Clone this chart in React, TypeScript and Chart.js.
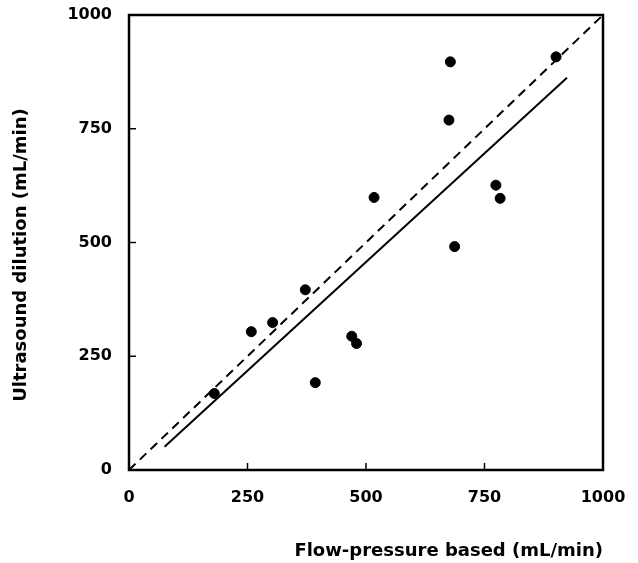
import React, { useEffect, useRef } from "react";
import { Chart, registerables } from "chart.js";

Chart.register(...registerables);

const flowPressure = [180, 258, 303, 372, 393, 470, 480, 517, 675, 678, 687, 774, 783, 901];
const ultrasound = [168, 304, 324, 396, 192, 294, 278, 599, 769, 897, 491, 626, 597, 908];
const regressionX = [75, 924];
const regressionY = [51, 862];
const identityX = [0, 1000];
const identityY = [0, 1000];
const tickValues = [0, 250, 500, 750, 1000];
const innerTicks = [250, 500, 750];
const xTitle = "Flow-pressure based (mL/min)";
const yTitle = "Ultrasound dilution (mL/min)";

const FONT = "'DejaVu Sans', sans-serif";

const frameTicks = {
  id: "frameTicks",
  afterDraw(chart: any) {
    const { ctx, chartArea, scales } = chart;
    const { left, right, top, bottom } = chartArea;
    ctx.save();
    ctx.strokeStyle = "#000";
    ctx.lineWidth = 2.5;
    ctx.strokeRect(left, top, right - left, bottom - top);
    ctx.lineWidth = 1.5;
    innerTicks.forEach((v) => {
      const px = scales.x.getPixelForValue(v);
      ctx.beginPath();
      ctx.moveTo(px, bottom);
      ctx.lineTo(px, bottom - 7);
      ctx.stroke();
      const py = scales.y.getPixelForValue(v);
      ctx.beginPath();
      ctx.moveTo(left, py);
      ctx.lineTo(left + 7, py);
      ctx.stroke();
    });
    ctx.restore();
  },
};

export default function App() {
  const ref = useRef<HTMLCanvasElement>(null);
  useEffect(() => {
    if (!ref.current) return;
    const chart = new Chart(ref.current, {
      type: "scatter",
      data: {
        datasets: [
          {
            label: "Identity",
            data: identityX.map((x, i) => ({ x, y: identityY[i] })),
            showLine: true,
            borderColor: "#000",
            borderWidth: 2,
            borderDash: [9, 6],
            pointRadius: 0,
          },
          {
            label: "Regression",
            data: regressionX.map((x, i) => ({ x, y: regressionY[i] })),
            showLine: true,
            borderColor: "#000",
            borderWidth: 2,
            pointRadius: 0,
          },
          {
            label: "Measurements",
            data: flowPressure.map((x, i) => ({ x, y: ultrasound[i] })),
            backgroundColor: "#000",
            borderColor: "#000",
            pointRadius: 5,
            pointHoverRadius: 5,
          },
        ],
      },
      options: {
        responsive: false,
        animation: false,
        layout: { padding: { left: 11, top: 15, right: 35, bottom: 0 } },
        plugins: { legend: { display: false }, tooltip: { enabled: false } },
        scales: {
          x: {
            type: "linear",
            min: 0,
            max: 1000,
            afterBuildTicks: (s: any) => {
              s.ticks = tickValues.map((v) => ({ value: v }));
            },
            afterFit: (s: any) => {
              s.height = 93;
              s.paddingLeft = 0;
              s.paddingRight = 0;
            },
            grid: { display: false, drawTicks: false },
            border: { display: false },
            ticks: {
              color: "#000",
              padding: 18,
              maxRotation: 0,
              callback: (v: any) => String(v),
              font: { family: FONT, size: 16, weight: "bold" },
            },
            title: {
              display: true,
              text: xTitle,
              align: "end",
              color: "#000",
              padding: { top: 0, bottom: 1 },
              font: { family: FONT, size: 18, weight: "bold" },
            },
          },
          y: {
            type: "linear",
            min: 0,
            max: 1000,
            afterBuildTicks: (s: any) => {
              s.ticks = tickValues.map((v) => ({ value: v }));
            },
            afterFit: (s: any) => {
              s.width = 118;
              s.paddingTop = 0;
              s.paddingBottom = 0;
            },
            grid: { display: false, drawTicks: false },
            border: { display: false },
            ticks: {
              color: "#000",
              padding: 17,
              callback: (v: any) => String(v),
              font: { family: FONT, size: 16, weight: "bold" },
            },
            title: {
              display: true,
              text: yTitle + "    ",
              color: "#000",
              padding: { top: 0, bottom: 0 },
              font: { family: FONT, size: 18, weight: "bold" },
            },
          },
        },
      },
      plugins: [frameTicks],
    });
    return () => chart.destroy();
  }, []);
  return (
    <div style={{ position: "fixed", left: 0, top: 0, width: 638, height: 563, background: "#fff" }}>
      <canvas ref={ref} width={638} height={563} />
    </div>
  );
}
